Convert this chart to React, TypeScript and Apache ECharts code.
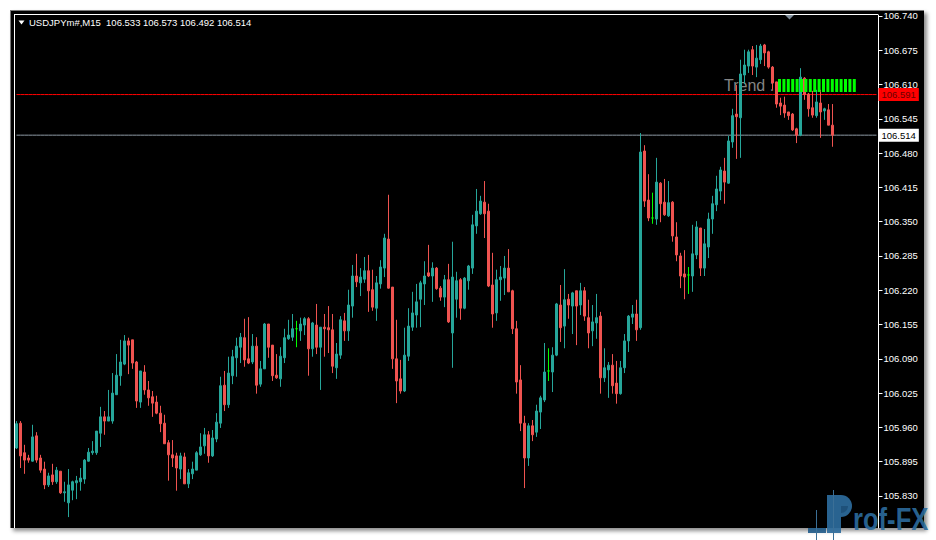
import { useEffect, useRef } from "react";
import * as echarts from "echarts";

const symbolTitle = "USDJPYm#,M15";
const lastBarOHLC = ["106.533", "106.573", "106.492", "106.514"];
const priceTicks = [106.74, 106.675, 106.61, 106.545, 106.48, 106.415, 106.35, 106.285, 106.22, 106.155, 106.09, 106.025, 105.96, 105.895, 105.83];
const levelPrice = 106.591;
const bidPrice = 106.514;
const trendLabel = "Trend :";
const trendCells = 18;
const logoTail = "rof-FX";
const slotCount = 216;
const dojiIdx = [70, 133, 159, 168];

const opens = [
  105.921, 105.968, 105.912, 105.902, 105.896, 105.944, 105.902, 105.881, 105.851, 105.870,
  105.857, 105.877, 105.836, 105.817, 105.841, 105.855, 105.857, 105.862, 105.896, 105.912,
  105.912, 105.949, 105.980, 105.972, 105.972, 106.022, 106.058, 106.080, 106.124, 106.126,
  106.084, 106.008, 106.065, 106.031, 106.018, 106.008, 105.987, 105.968, 105.931, 105.908,
  105.906, 105.881, 105.904, 105.853, 105.872, 105.879, 105.908, 105.925, 105.946, 105.906,
  105.938, 105.968, 106.040, 106.003, 106.058, 106.092, 106.112, 106.130, 106.090, 106.084,
  106.114, 106.042, 106.071, 106.156, 106.116, 106.059, 106.052, 106.092, 106.128, 106.131,
  106.147, 106.143, 106.154, 106.166, 106.109, 106.154, 106.112, 106.150, 106.149, 106.145,
  106.073, 106.097, 106.162, 106.143, 106.190, 106.247, 106.234, 106.241, 106.257, 106.221,
  106.186, 106.232, 106.262, 106.317, 106.226, 106.090, 106.052, 106.029, 106.095, 106.150,
  106.173, 106.203, 106.232, 106.253, 106.247, 106.262, 106.224, 106.207, 106.240, 106.139,
  106.203, 106.240, 106.186, 106.238, 106.262, 106.342, 106.365, 106.387, 106.370, 106.230,
  106.177, 106.240, 106.243, 106.262, 106.219, 106.147, 106.050, 105.968, 105.902, 105.963,
  105.951, 105.989, 106.012, 106.067, 106.065, 106.097, 106.192, 106.152, 106.203, 106.190,
  106.219, 106.192, 106.219, 106.168, 106.143, 106.158, 106.171, 106.054, 106.069, 106.078,
  106.044, 106.024, 106.073, 106.124, 106.169, 106.175, 106.149, 106.484, 106.391, 106.357,
  106.355, 106.423, 106.387, 106.361, 106.387, 106.321, 106.285, 106.251, 106.249, 106.247,
  106.287, 106.338, 106.262, 106.302, 106.355, 106.382, 106.408, 106.446, 106.423, 106.501,
  106.554, 106.547, 106.628, 106.645, 106.676, 106.643, 106.657, 106.685, 106.672, 106.643,
  106.615, 106.575, 106.571, 106.558, 106.554, 106.526, 106.514, 106.622, 106.592, 106.566,
  106.551, 106.575, 106.560, 106.562, 106.533,
];
const closes = [
  105.967, 105.906, 105.898, 105.898, 105.942, 105.898, 105.879, 105.851, 105.868, 105.857,
  105.879, 105.836, 105.838, 105.851, 105.857, 105.859, 105.864, 105.898, 105.913, 105.915,
  105.953, 105.980, 105.972, 105.980, 106.025, 106.059, 106.084, 106.124, 106.116, 106.082,
  106.010, 106.067, 106.031, 106.016, 106.006, 105.987, 105.967, 105.929, 105.908, 105.902,
  105.883, 105.906, 105.853, 105.874, 105.881, 105.912, 105.923, 105.946, 105.906, 105.940,
  105.970, 106.039, 106.003, 106.063, 106.094, 106.114, 106.131, 106.088, 106.082, 106.114,
  106.040, 106.071, 106.156, 106.112, 106.058, 106.054, 106.095, 106.130, 106.135, 106.147,
  106.147, 106.156, 106.166, 106.109, 106.158, 106.112, 106.150, 106.147, 106.145, 106.076,
  106.099, 106.164, 106.143, 106.192, 106.247, 106.236, 106.245, 106.257, 106.219, 106.188,
  106.234, 106.264, 106.319, 106.224, 106.090, 106.048, 106.029, 106.097, 106.152, 106.177,
  106.198, 106.234, 106.247, 106.247, 106.262, 106.223, 106.207, 106.240, 106.160, 106.245,
  106.238, 106.186, 106.243, 106.266, 106.344, 106.370, 106.389, 106.365, 106.228, 106.175,
  106.240, 106.245, 106.262, 106.217, 106.147, 106.046, 105.968, 105.902, 105.963, 105.946,
  105.991, 106.016, 106.065, 106.067, 106.097, 106.194, 106.149, 106.202, 106.192, 106.215,
  106.190, 106.219, 106.171, 106.139, 106.160, 106.168, 106.054, 106.073, 106.078, 106.039,
  106.024, 106.073, 106.124, 106.171, 106.175, 106.145, 106.482, 106.389, 106.357, 106.357,
  106.425, 106.384, 106.363, 106.386, 106.323, 106.287, 106.247, 106.245, 106.249, 106.289,
  106.340, 106.262, 106.308, 106.355, 106.384, 106.412, 106.448, 106.425, 106.503, 106.551,
  106.549, 106.630, 106.647, 106.672, 106.645, 106.660, 106.683, 106.670, 106.643, 106.613,
  106.573, 106.569, 106.556, 106.551, 106.524, 106.514, 106.624, 106.591, 106.564, 106.552,
  106.577, 106.558, 106.564, 106.533, 106.514,
];
const lows = [
  105.919, 105.883, 105.872, 105.893, 105.895, 105.893, 105.874, 105.843, 105.847, 105.851,
  105.853, 105.834, 105.819, 105.790, 105.822, 105.824, 105.840, 105.853, 105.895, 105.908,
  105.908, 105.923, 105.946, 105.972, 105.967, 106.022, 106.039, 106.078, 106.061, 106.071,
  105.997, 105.997, 106.022, 106.001, 105.980, 105.985, 105.951, 105.929, 105.859, 105.885,
  105.840, 105.862, 105.853, 105.845, 105.862, 105.879, 105.906, 105.910, 105.893, 105.904,
  105.932, 105.959, 105.991, 105.997, 106.042, 106.056, 106.082, 106.075, 106.080, 106.080,
  106.024, 106.037, 106.071, 106.092, 106.048, 106.052, 106.037, 106.082, 106.126, 106.124,
  106.112, 106.124, 106.135, 106.058, 106.094, 106.099, 106.031, 106.094, 106.101, 106.063,
  106.052, 106.090, 106.124, 106.124, 106.168, 106.226, 106.209, 106.234, 106.179, 106.181,
  106.162, 106.223, 106.245, 106.223, 106.071, 106.006, 106.024, 106.027, 106.086, 106.143,
  106.149, 106.150, 106.192, 106.245, 106.198, 106.221, 106.200, 106.188, 106.158, 106.073,
  106.168, 106.164, 106.184, 106.221, 106.251, 106.327, 106.363, 106.319, 106.226, 106.149,
  106.162, 106.200, 106.211, 106.217, 106.137, 106.024, 105.953, 105.845, 105.887, 105.934,
  105.942, 105.957, 106.008, 106.048, 106.027, 106.095, 106.122, 106.110, 106.166, 106.137,
  106.116, 106.173, 106.162, 106.110, 106.114, 106.128, 106.024, 106.046, 106.016, 106.024,
  106.005, 106.022, 106.063, 106.103, 106.156, 106.124, 106.145, 106.378, 106.351, 106.346,
  106.344, 106.349, 106.361, 106.359, 106.312, 106.275, 106.224, 106.203, 106.213, 106.217,
  106.279, 106.247, 106.247, 106.281, 106.327, 106.370, 106.391, 106.384, 106.422, 106.490,
  106.469, 106.471, 106.611, 106.632, 106.628, 106.624, 106.649, 106.645, 106.640, 106.600,
  106.566, 106.552, 106.547, 106.543, 106.522, 106.499, 106.512, 106.581, 106.549, 106.547,
  106.547, 106.509, 106.543, 106.533, 106.492,
];
const highs = [
  105.972, 105.972, 105.927, 105.908, 105.965, 105.951, 105.908, 105.895, 105.874, 105.891,
  105.885, 105.877, 105.857, 105.881, 105.859, 105.868, 105.883, 105.900, 105.921, 105.934,
  105.953, 105.999, 105.991, 106.031, 106.063, 106.099, 106.126, 106.135, 106.130, 106.126,
  106.086, 106.067, 106.078, 106.048, 106.029, 106.020, 106.001, 105.984, 105.936, 105.936,
  105.912, 105.912, 105.912, 105.881, 105.895, 105.915, 105.949, 105.959, 105.953, 105.955,
  105.987, 106.056, 106.067, 106.094, 106.107, 106.130, 106.139, 106.166, 106.169, 106.137,
  106.131, 106.086, 106.158, 106.156, 106.116, 106.099, 106.112, 106.147, 106.164, 106.175,
  106.162, 106.168, 106.169, 106.169, 106.160, 106.194, 106.150, 106.175, 106.190, 106.175,
  106.120, 106.171, 106.177, 106.221, 106.268, 106.289, 106.262, 106.283, 106.287, 106.259,
  106.247, 106.277, 106.327, 106.401, 106.226, 106.164, 106.088, 106.149, 106.186, 106.217,
  106.232, 106.238, 106.275, 106.306, 106.273, 106.264, 106.228, 106.249, 106.270, 106.312,
  106.255, 106.243, 106.245, 106.268, 106.363, 106.412, 106.399, 106.427, 106.384, 106.291,
  106.259, 106.266, 106.285, 106.298, 106.221, 106.162, 106.078, 105.982, 105.968, 105.974,
  106.003, 106.020, 106.120, 106.110, 106.112, 106.196, 106.230, 106.260, 106.213, 106.217,
  106.219, 106.234, 106.226, 106.202, 106.192, 106.213, 106.179, 106.110, 106.084, 106.099,
  106.086, 106.086, 106.137, 106.173, 106.192, 106.202, 106.518, 106.495, 106.440, 106.405,
  106.471, 106.425, 106.431, 106.427, 106.389, 106.349, 106.291, 106.296, 106.264, 106.344,
  106.351, 106.338, 106.336, 106.367, 106.399, 106.437, 106.454, 106.471, 106.513, 106.564,
  106.609, 106.657, 106.676, 106.676, 106.683, 106.685, 106.687, 106.687, 106.674, 106.645,
  106.615, 106.585, 106.587, 106.558, 106.556, 106.528, 106.641, 106.624, 106.594, 106.598,
  106.600, 106.600, 106.566, 106.573, 106.573,
];

const UP = "#26a69a";
const DOWN = "#ef5350";
const LIME = "#00ff00";
const FONT = "'Liberation Sans', Arial, sans-serif";
const LOGO = "#2c6b9c";

function priceLine(name: string, value: number, lineColor: string, boxColor: string, textColor: string) {
  return {
    type: "line",
    name,
    data: Array.from({ length: slotCount }, () => value),
    silent: true,
    symbol: "none",
    showSymbol: false,
    z: 2,
    color: lineColor,
    itemStyle: { color: lineColor },
    lineStyle: { color: lineColor, width: 1, type: "solid", opacity: 1 },
    emphasis: { disabled: true },
    endLabel: {
      show: true,
      distance: 2,
      formatter: () => value.toFixed(3),
      color: textColor,
      backgroundColor: boxColor,
      padding: [2, 3, 1, 3],
      fontSize: 9.5,
      fontFamily: FONT,
    },
  };
}

export default function App() {
  const ref = useRef<HTMLDivElement>(null);

  useEffect(() => {
    if (!ref.current) return;
    const chart = echarts.init(ref.current, null, { renderer: "svg" });
    const categories = Array.from({ length: slotCount }, (_, i) => String(i));
    const candleData = opens.map((o, i) => {
      const v = [o, closes[i], lows[i], highs[i]];
      if (dojiIdx.includes(i)) {
        return { value: v, itemStyle: { color: LIME, color0: LIME, borderColor: LIME, borderColor0: LIME } };
      }
      return v;
    });

    const trendBars = Array.from({ length: trendCells }, (_, k) => ({
      type: "rect",
      z: 6,
      shape: { x: 778 + k * 4.4, y: 79, width: 3, height: 13 },
      style: { fill: LIME },
    }));

    chart.setOption({
      animation: false,
      backgroundColor: "transparent",
      grid: { left: 14.5, right: 57.5, top: 15, bottom: 12, containLabel: false },
      xAxis: {
        type: "category",
        data: categories,
        boundaryGap: true,
        show: false,
      },
      yAxis: {
        type: "value",
        position: "right",
        min: 105.7693,
        max: 106.7418,
        scale: true,
        splitLine: { show: false },
        axisLine: { show: true, lineStyle: { color: "#ffffff", width: 1 } },
        axisTick: { show: true, length: 4, lineStyle: { color: "#ffffff" }, customValues: priceTicks },
        axisLabel: {
          show: true,
          customValues: priceTicks,
          margin: 5,
          color: "#ffffff",
          fontSize: 9.5,
          fontFamily: FONT,
          formatter: (v: number) => v.toFixed(3),
        },
      },
      series: [
        priceLine("level", levelPrice, "#ff0000", "#ff0000", "#6a0000"),
        priceLine("bid", bidPrice, "#8e9aa5", "#ffffff", "#000000"),
        {
          type: "candlestick",
          data: candleData,
          barWidth: 2,
          z: 3,
          itemStyle: {
            color: UP,
            color0: DOWN,
            borderColor: UP,
            borderColor0: DOWN,
            borderWidth: 1,
          },
        },
      ],
      graphic: [
        { type: "line", z: 8, shape: { x1: 14, y1: 14.5, x2: 878, y2: 14.5 }, style: { stroke: "#ffffff", lineWidth: 1 } },
        { type: "line", z: 8, shape: { x1: 14.5, y1: 14, x2: 14.5, y2: 528 }, style: { stroke: "#ffffff", lineWidth: 1 } },
        { type: "polygon", z: 8, shape: { points: [[18.5, 20.5], [24.5, 20.5], [21.5, 24.5]] }, style: { fill: "#ffffff" } },
        {
          type: "text",
          z: 8,
          x: 29,
          y: 22.5,
          style: {
            text: symbolTitle + "  " + lastBarOHLC.join(" "),
            fill: "#ffffff",
            font: `9.5px ${FONT}`,
            verticalAlign: "middle",
          },
        },
        { type: "polygon", z: 8, shape: { points: [[785, 15], [794, 15], [789.5, 19.5]] }, style: { fill: "#7f8d9a" } },
        {
          type: "text",
          z: 1,
          x: 724,
          y: 85,
          style: { text: trendLabel, fill: "#858585", font: `16px ${FONT}`, verticalAlign: "middle" },
        },
        ...trendBars,
        {
          type: "group",
          z: 20,
          children: [
            { type: "rect", z: 20, shape: { x: 808, y: 528, width: 18, height: 5 }, style: { fill: "#1f5a88", opacity: 0.9 } },
            { type: "line", z: 20, shape: { x1: 816.5, y1: 510, x2: 816.5, y2: 540 }, style: { stroke: "#3b6f96", lineWidth: 1 } },
            { type: "rect", z: 20, shape: { x: 827, y: 495, width: 14, height: 38 }, style: { fill: LOGO, opacity: 0.92 } },
            { type: "sector", z: 20, shape: { cx: 841, cy: 506, r0: 0, r: 11, startAngle: -Math.PI / 2, endAngle: Math.PI / 2 }, style: { fill: LOGO, opacity: 0.92 } },
            { type: "sector", z: 21, shape: { cx: 841, cy: 506, r0: 0, r: 7, startAngle: 0, endAngle: Math.PI / 2 }, style: { fill: "#1d4f78", opacity: 0.9 } },
            { type: "line", z: 21, shape: { x1: 833.5, y1: 490, x2: 833.5, y2: 540 }, style: { stroke: "#3b6f96", lineWidth: 1 } },
            {
              type: "text",
              z: 20,
              x: 853,
              y: 535,
              scaleX: 0.8,
              style: { text: logoTail, fill: LOGO, opacity: 0.92, font: `bold 32px ${FONT}`, verticalAlign: "bottom" },
            },
          ],
        },
      ],
    });

    return () => chart.dispose();
  }, []);

  return (
    <div style={{ position: "fixed", left: 0, top: 0, width: 936, height: 540, background: "#ffffff", overflow: "hidden" }}>
      <div
        style={{
          position: "absolute",
          left: 10,
          top: 10,
          width: 913,
          height: 517,
          background: "#000000",
          borderLeft: "1px solid #7a7a7a",
          borderTop: "1px solid #7a7a7a",
          boxShadow: "3px 3px 4px rgba(0,0,0,0.45)",
        }}
      />
      <div ref={ref} style={{ position: "absolute", left: 0, top: 0, width: 936, height: 540 }} />
    </div>
  );
}
